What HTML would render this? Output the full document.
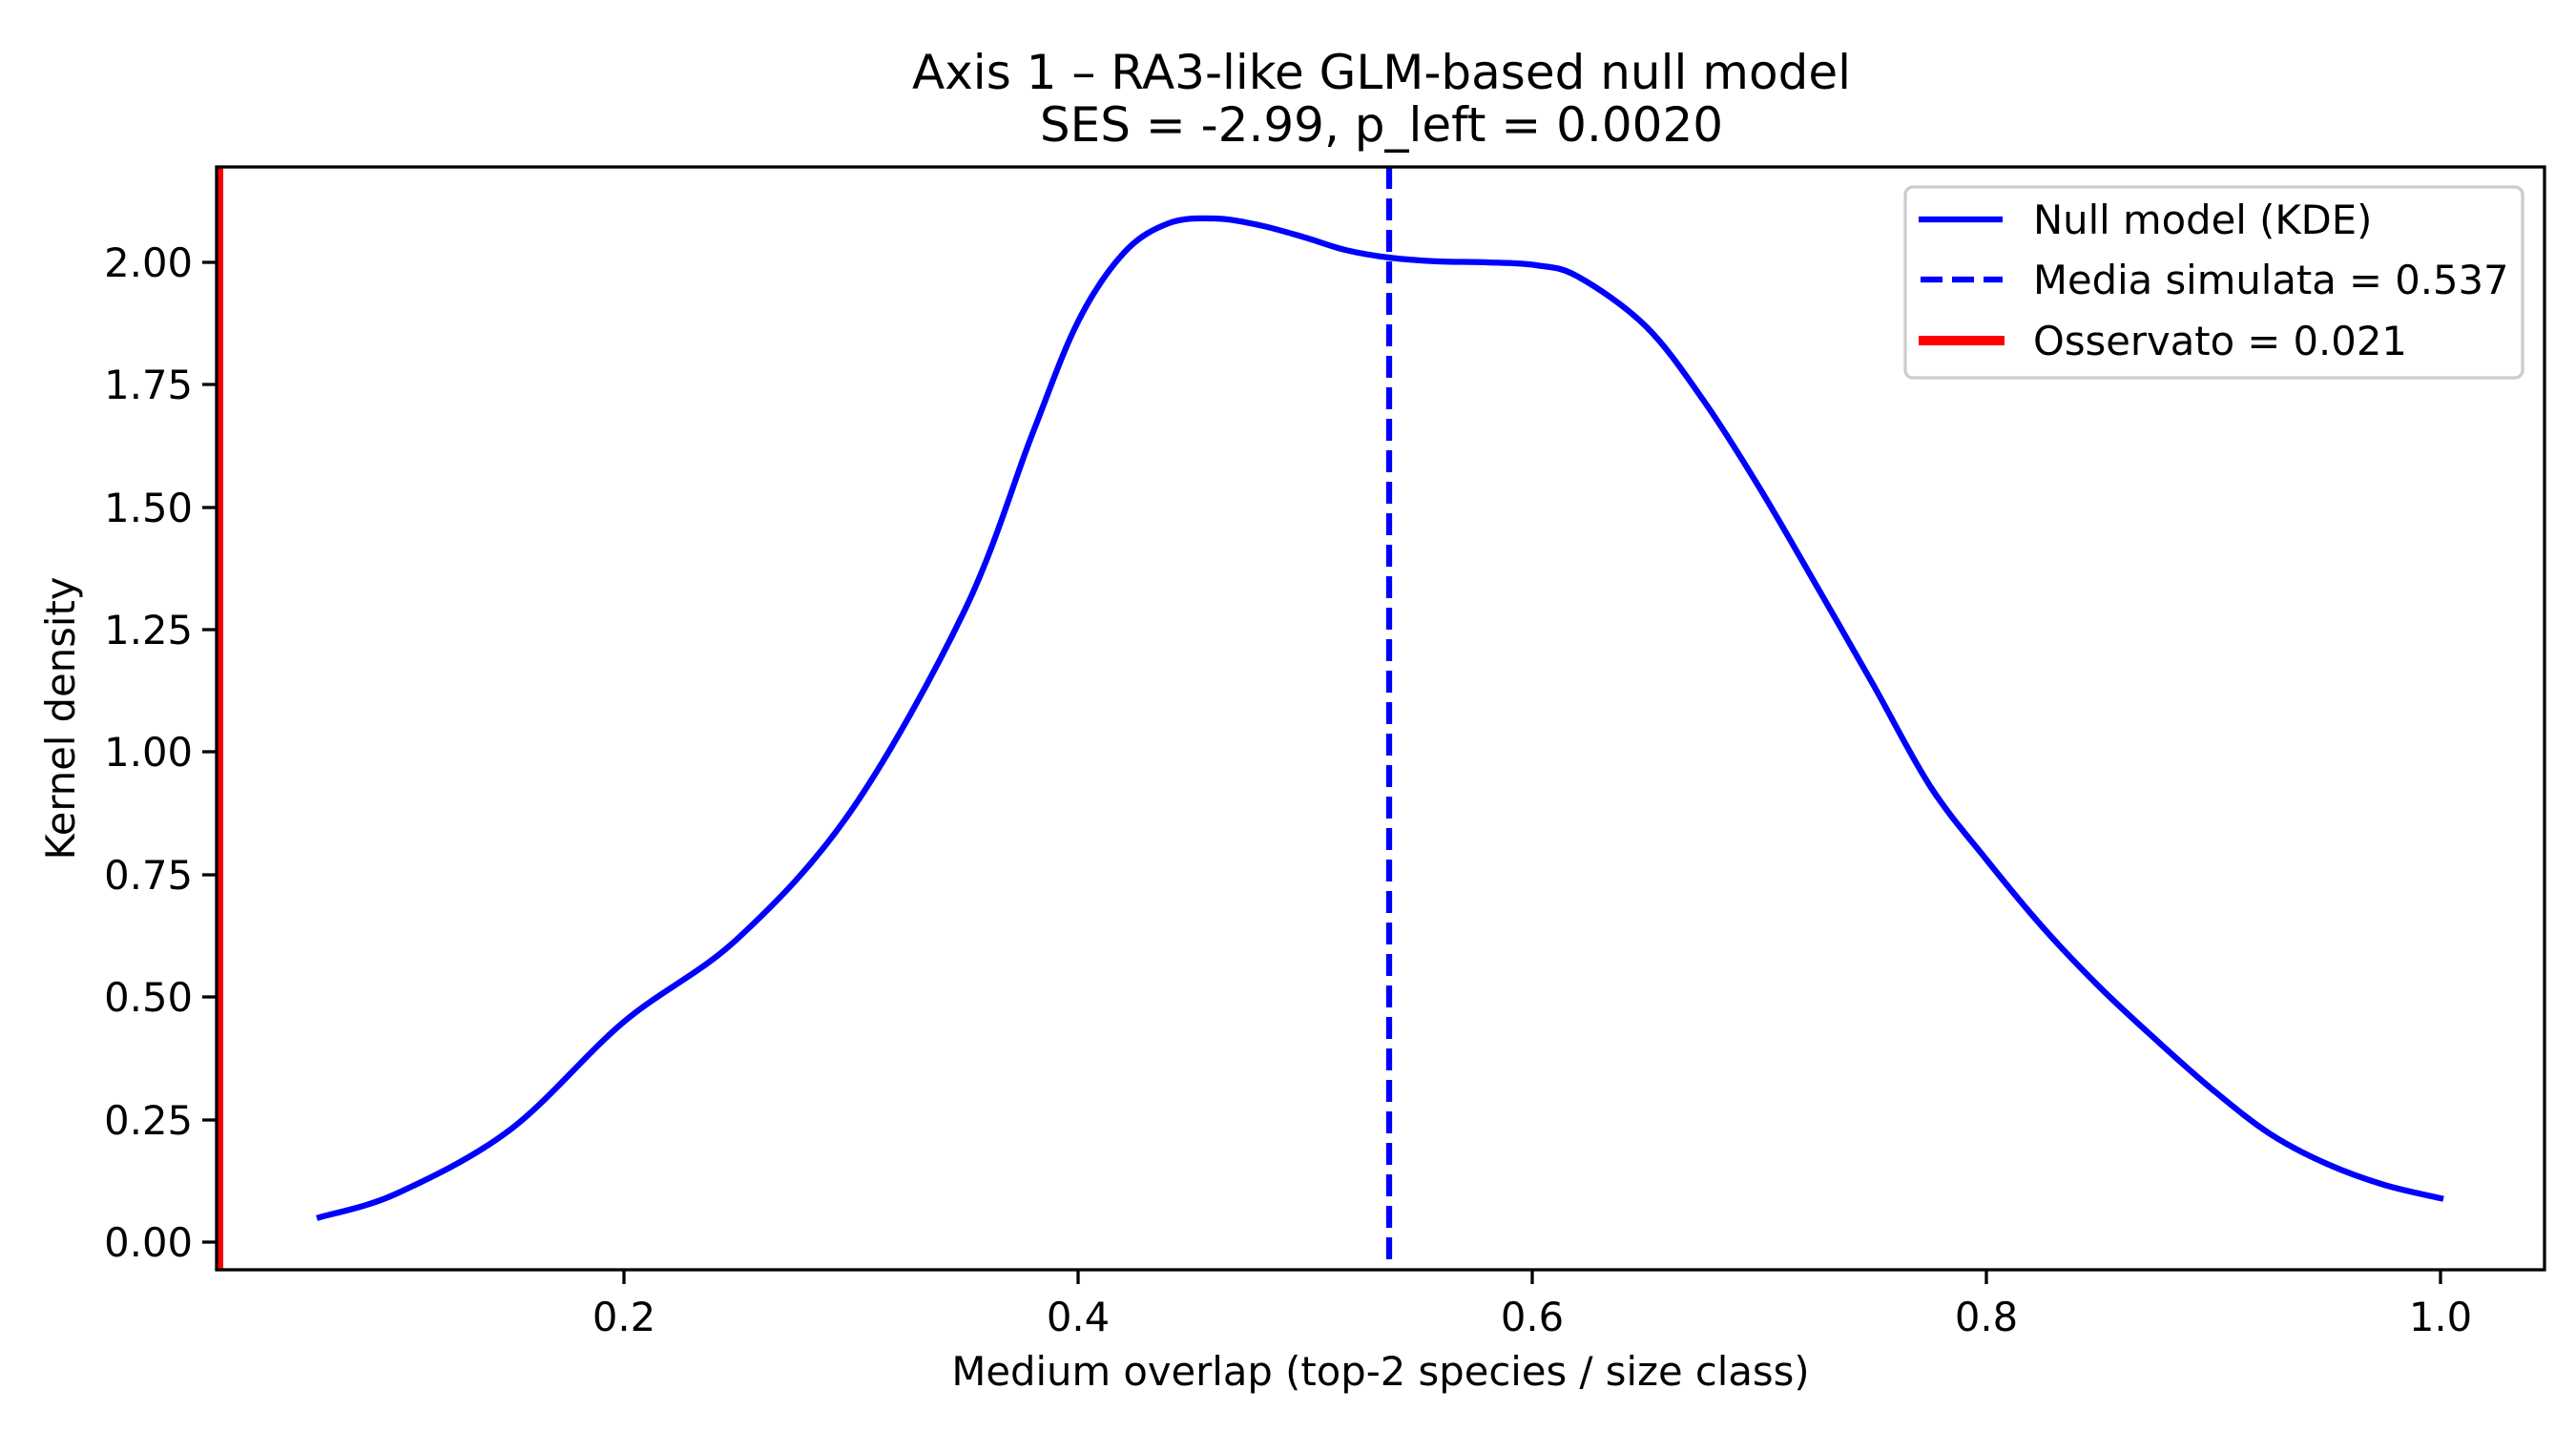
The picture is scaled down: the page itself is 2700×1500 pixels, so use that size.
<!DOCTYPE html>
<html><head><meta charset="utf-8"><style>html,body{margin:0;padding:0;background:#fff}svg{display:block}</style></head>
<body>
<svg width="2700" height="1500" viewBox="0 0 2700 1500" xmlns="http://www.w3.org/2000/svg" font-family="'DejaVu Sans','Liberation Sans',sans-serif">
<rect width="2700" height="1500" fill="#fff"/>
<text x="1448" y="93" font-size="50" text-anchor="middle">Axis 1 – RA3-like GLM-based null model</text>
<text x="1448" y="148" font-size="50" text-anchor="middle">SES = -2.99, p_left = 0.0020</text>
<defs><clipPath id="c"><rect x="227" y="175" width="2440" height="1156"/></clipPath></defs>
<g clip-path="url(#c)">
<line x1="229" y1="160" x2="229" y2="1340" stroke="#ff0000" stroke-width="10"/>
<line x1="1456" y1="175" x2="1456" y2="1331" stroke="#0000ff" stroke-width="6.25" stroke-dasharray="23,10"/>
<path id="kde" fill="none" stroke="#0000ff" stroke-width="6.25" stroke-linejoin="round" stroke-linecap="square" d="M335,1276 L416,1251 L535,1184 L654,1071 L773,984 L892,850 L1011,640 L1082,455 L1130,337 L1178,265 L1225,234 L1273,229 L1320,236 L1368,249 L1410,262 L1456,270 L1507,274 L1558,275 L1610,278 L1654,290 L1725,342 L1785,419 L1844,511 L1904,614 L1963,717 L2023,824 L2082,901 L2142,973 L2201,1035 L2261,1091 L2320,1143 L2380,1189 L2439,1220 L2499,1242 L2558,1256"/>
</g>
<rect x="227" y="175" width="2440" height="1156" fill="none" stroke="#000" stroke-width="3.3"/>
<g stroke="#000" stroke-width="3.3">
<line x1="212" y1="1302" x2="227" y2="1302"/><line x1="212" y1="1174" x2="227" y2="1174"/><line x1="212" y1="1045" x2="227" y2="1045"/><line x1="212" y1="917" x2="227" y2="917"/><line x1="212" y1="788" x2="227" y2="788"/><line x1="212" y1="660" x2="227" y2="660"/><line x1="212" y1="532" x2="227" y2="532"/><line x1="212" y1="403" x2="227" y2="403"/><line x1="212" y1="275" x2="227" y2="275"/>
<line x1="654" y1="1331" x2="654" y2="1346"/><line x1="1130" y1="1331" x2="1130" y2="1346"/><line x1="1606" y1="1331" x2="1606" y2="1346"/><line x1="2082" y1="1331" x2="2082" y2="1346"/><line x1="2558" y1="1331" x2="2558" y2="1346"/>
</g>
<g font-size="41.7" text-anchor="end">
<text x="202" y="1317">0.00</text><text x="202" y="1189">0.25</text><text x="202" y="1060">0.50</text><text x="202" y="932">0.75</text><text x="202" y="803">1.00</text><text x="202" y="675">1.25</text><text x="202" y="547">1.50</text><text x="202" y="418">1.75</text><text x="202" y="290">2.00</text>
</g>
<g font-size="41.7" text-anchor="middle">
<text x="654" y="1395">0.2</text><text x="1130" y="1395">0.4</text><text x="1606" y="1395">0.6</text><text x="2082" y="1395">0.8</text><text x="2558" y="1395">1.0</text>
<text x="1447" y="1452">Medium overlap (top-2 species / size class)</text>
<text transform="translate(78,753) rotate(-90)">Kernel density</text>
</g>
<rect x="1997" y="196" width="647" height="200" rx="8" fill="#fff" fill-opacity="0.8" stroke="#cccccc" stroke-width="3.3"/>
<line x1="2011" y1="230" x2="2099" y2="230" stroke="#0000ff" stroke-width="6.25"/>
<line x1="2013" y1="293" x2="2099" y2="293" stroke="#0000ff" stroke-width="6.25" stroke-dasharray="23,10"/>
<line x1="2011" y1="357" x2="2101" y2="357" stroke="#ff0000" stroke-width="10"/>
<g font-size="41.7">
<text x="2131" y="245">Null model (KDE)</text>
<text x="2131" y="308">Media simulata = 0.537</text>
<text x="2131" y="372">Osservato = 0.021</text>
</g>
</svg>
<script>
(function(){
var p=[[335,1276],[416,1251],[535,1184],[654,1071],[773,984],[892,850],[1011,640],[1082,455],[1130,337],[1178,265],[1225,234],[1273,229],[1320,236],[1368,249],[1410,262],[1456,270],[1507,274],[1558,275],[1610,278],[1654,290],[1725,342],[1785,419],[1844,511],[1904,614],[1963,717],[2023,824],[2082,901],[2142,973],[2201,1035],[2261,1091],[2320,1143],[2380,1189],[2439,1220],[2499,1242],[2558,1256]];
var d="M"+p[0][0]+","+p[0][1];
for(var i=0;i<p.length-1;i++){
var a=p[i>0?i-1:0],b=p[i],c=p[i+1],e=p[i+2<p.length?i+2:p.length-1];
var c1x=b[0]+(c[0]-a[0])/6,c1y=b[1]+(c[1]-a[1])/6,c2x=c[0]-(e[0]-b[0])/6,c2y=c[1]-(e[1]-b[1])/6;
d+=" C"+c1x.toFixed(1)+","+c1y.toFixed(1)+" "+c2x.toFixed(1)+","+c2y.toFixed(1)+" "+c[0]+","+c[1];
}
document.getElementById("kde").setAttribute("d",d);
})();
</script>
</body></html>
